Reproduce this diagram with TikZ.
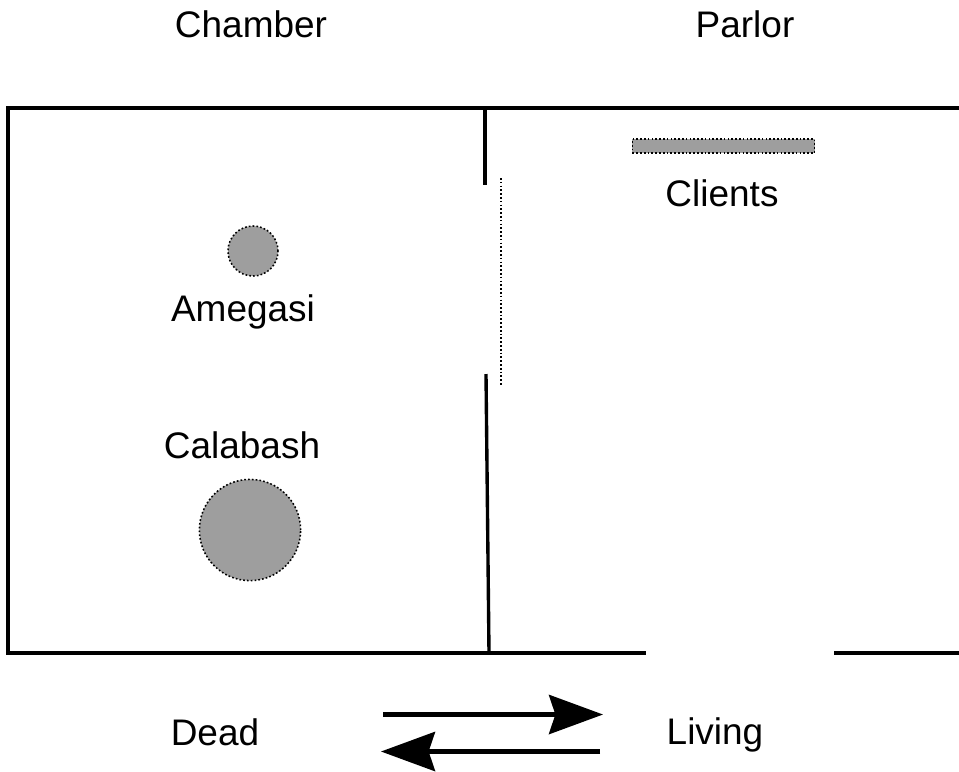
\documentclass[tikz,border=0pt]{standalone}
\usepackage{fontspec}
\setmainfont{Liberation Sans}
\usetikzlibrary{arrows.meta}
\definecolor{figure gray}{HTML}{9E9E9E}
\tikzset{
  room label/.style={inner sep=0pt,font=\fontsize{26.3}{30}\selectfont},
  figure/.style={draw=black,fill=figure gray,line width=1.1pt,dash pattern=on 1.2pt off 1.5pt,inner sep=0pt}
}

\begin{document}
\begin{tikzpicture}[x=0.025cm,y=-0.025cm]
\useasboundingbox (0,0) rectangle (959,771);
\begin{scope}[every edge/.style={draw=black}]
    \coordinate (TL) at (8,108);
    \coordinate (TR) at (959,108);
    \coordinate (BL) at (8,653);
    \coordinate (BM) at (646,653);
    \coordinate (BN) at (834,653);
    \coordinate (BR) at (959,653);
    \coordinate (WA) at (485,108);
    \coordinate (WB) at (485,185);
    \coordinate (WC) at (486,374);
    \coordinate (WD) at (489,653);
    \coordinate (CA) at (501,178);
    \coordinate (CB) at (501,386);
    \coordinate (AA) at (383,714.5);
    \coordinate (AB) at (603,714.5);
    \coordinate (AC) at (600,751.5);
    \coordinate (AD) at (381,751.5);
    \draw [line width=3pt,line join=miter] (TR) -- (TL) -- (BL) -- (BM);
    \path [line width=3pt] (BN) edge (BR);
    \path [line width=2.4pt] (WA) edge (WB);
    \path [line width=2.4pt] (WC) edge (WD);
    \path [line width=1.2pt,dash pattern=on 1.2pt off 1.5pt] (CA) edge (CB);
    \path [-{Stealth[length=1.35cm,width=0.98cm,inset=0.16cm]},line width=3pt] (AA) edge (AB);
    \path [-{Stealth[length=1.35cm,width=0.98cm,inset=0.16cm]},line width=3pt] (AC) edge (AD);
\end{scope}
    \node (Chamber) [room label] at (251,24) {Chamber};
    \node (Parlor) [room label] at (745,24) {Parlor};
    \node (ClientsBar) [figure,rectangle,minimum width=4.55cm,minimum height=0.34cm] at (723.5,146) {};
    \node (Clients) [room label] at (722,193) {Clients};
    \node (AmegasiDot) [figure,circle,minimum size=1.25cm] at (253,251) {};
    \node (Amegasi) [room label] at (243,311.5) {Amegasi};
    \node (Calabash) [room label] at (242,445) {Calabash};
    \node (CalabashDot) [figure,circle,minimum size=2.53cm] at (250,530) {};
    \node (Dead) [room label] at (215,732) {Dead};
    \node (Living) [room label] at (715,735) {Living};
\end{tikzpicture}
\end{document}
